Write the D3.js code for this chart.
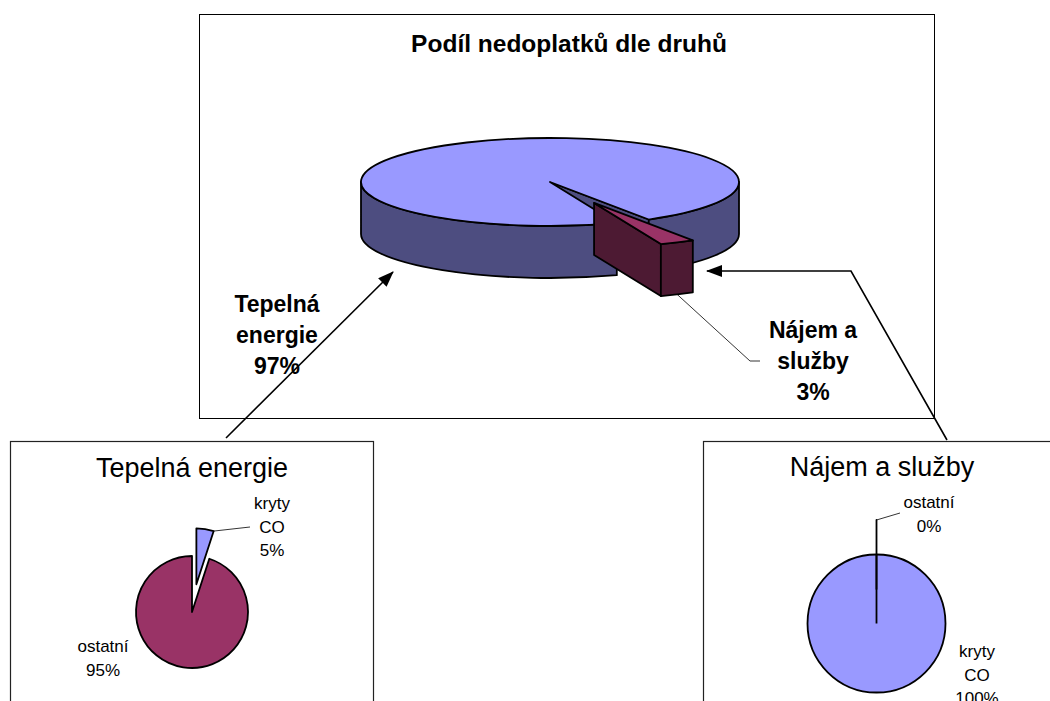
<!DOCTYPE html>
<html>
<head>
<meta charset="utf-8">
<script src="https://cdn.jsdelivr.net/npm/d3@7"></script>
<style>
  body { margin: 0; background: #fff; }
  text { font-family: "Liberation Sans", Arial, Helvetica, sans-serif; fill: #000; }
</style>
</head>
<body>
<script>
// data
var mainCategories = ["Tepelná energie", "Nájem a služby"];
var mainValues = [97, 3];
var mainLabelLines = [["Tepelná", "energie"], ["Nájem a", "služby"]];

var heatCategories = ["kryty CO", "ostatní"];
var heatValues = [5, 95];
var heatLabelLines = [["kryty", "CO"], ["ostatní"]];

var rentCategories = ["kryty CO", "ostatní"];
var rentValues = [100, 0];
var rentLabelLines = [["kryty", "CO"], ["ostatní"]];

var w = 1050;
var h = 701;
var svg = d3.select("body").append("svg")
          .attr("width", w)
          .attr("height", h);

var pct = d3.format(".0%");
var blue = "#9999ff", blueSide = "#4d4d80";
var maroon = "#993366", maroonSide = "#4d1a33";

var defs = svg.append("defs");
defs.append("marker")
    .attr("id", "arrow")
    .attr("markerUnits", "userSpaceOnUse")
    .attr("markerWidth", 16)
    .attr("markerHeight", 12)
    .attr("refX", 15)
    .attr("refY", 6)
    .attr("orient", "auto")
  .append("path")
    .attr("d", "M0,0 L16,6 L0,12 Z")
    .attr("fill", "#000");

// frames
svg.append("rect")
   .attr("x", 199.5).attr("y", 14.5)
   .attr("width", 735).attr("height", 404)
   .attr("fill", "white").attr("stroke", "#000").attr("stroke-width", 1);
svg.append("rect")
   .attr("x", 10.5).attr("y", 441.5)
   .attr("width", 363).attr("height", 280)
   .attr("fill", "white").attr("stroke", "#222").attr("stroke-width", 1.2);
svg.append("rect")
   .attr("x", 703.5).attr("y", 441.5)
   .attr("width", 380).attr("height", 280)
   .attr("fill", "white").attr("stroke", "#222").attr("stroke-width", 1.2);

// main title
svg.append("text")
   .attr("x", 569).attr("y", 52)
   .attr("text-anchor", "middle")
   .style("font-size", "24.5px").style("font-weight", "bold")
   .text("Podíl nedoplatků dle druhů");

// ---- main 3D pie ----
var cx = 550, cy = 182, rx = 189, ry = 44, depth = 52, explode = 0.53;
var mainPie = d3.pie().sort(null)
    .startAngle(159.3 * Math.PI / 180)
    .endAngle(159.3 * Math.PI / 180 + 2 * Math.PI);
var mainArcs = mainPie(mainValues);
var mainColors = [[blue, blueSide], [maroon, maroonSide]];
var smallest = d3.min(mainValues);

function pt(t, z, o) {
  return [cx + o[0] + rx * Math.cos(t), cy + o[1] + ry * Math.sin(t) + z];
}
function arcTo(p, large, sweep) {
  return "A" + rx + "," + ry + " 0 " + large + "," + sweep + " " + p[0] + "," + p[1];
}

var pie3d = svg.append("g");
mainArcs.forEach(function(d, i) {
  // screen angle: 0 = right, clockwise
  var t0 = d.startAngle - Math.PI / 2;
  var t1 = d.endAngle - Math.PI / 2;
  var tm = (t0 + t1) / 2;
  var o = d.value === smallest ? [explode * rx * Math.cos(tm), explode * ry * Math.sin(tm)] : [0, 0];
  d.t0 = t0; d.t1 = t1; d.tm = tm; d.o = o;
  var g = pie3d.append("g");
  var style = function(sel, fill) {
    sel.attr("fill", fill).attr("stroke", "#000")
       .attr("stroke-width", 1.8).attr("stroke-linejoin", "round");
  };
  var c0 = [cx + o[0], cy + o[1]];
  // radial faces
  [[t0, -Math.cos(t0) > 0], [t1, Math.cos(t1) > 0]].forEach(function(f) {
    if (!f[1]) return;
    var a = pt(f[0], 0, o), b = pt(f[0], depth, o);
    g.append("path")
     .attr("d", "M" + c0 + "L" + a + "L" + b + "L" + [c0[0], c0[1] + depth] + "Z")
     .call(style, mainColors[i][1]);
  });
  // outer walls (front half only)
  for (var k = -1; k <= 2; k++) {
    var a = Math.max(t0, 2 * Math.PI * k), b = Math.min(t1, 2 * Math.PI * k + Math.PI);
    if (b - a <= 0) continue;
    var p0 = pt(a, 0, o), p1 = pt(b, 0, o), p2 = pt(b, depth, o), p3 = pt(a, depth, o);
    g.append("path")
     .attr("d", "M" + p0 + arcTo(p1, 0, 1) + "L" + p2 + arcTo(p3, 0, 0) + "Z")
     .call(style, mainColors[i][1]);
  }
  // top face
  var s = pt(t0, 0, o), e = pt(t1, 0, o);
  g.append("path")
   .attr("d", "M" + c0 + "L" + s + arcTo(e, (t1 - t0) > Math.PI ? 1 : 0, 1) + "Z")
   .call(style, mainColors[i][0]);
});

// main labels
var mainLabelPos = [[277, 312], [813, 338]];
mainArcs.forEach(function(d, i) {
  var lines = mainLabelLines[i].concat([pct(d.value / d3.sum(mainValues))]);
  var t = svg.append("text")
     .attr("text-anchor", "middle")
     .style("font-size", "23px").style("font-weight", "bold");
  lines.forEach(function(l, j) {
    t.append("tspan").attr("x", mainLabelPos[i][0])
     .attr("y", mainLabelPos[i][1] + j * 31).text(l);
  });
});
// leader for small slice
var small = mainArcs[1];
var lp = pt(small.tm, depth, small.o);
svg.append("polyline")
   .attr("points", [lp, [750, 361], [760, 361]].join(" "))
   .attr("fill", "none").attr("stroke", "#000").attr("stroke-width", 0.8);

// ---- small 2D pies ----
function smallPie(opts) {
  var pie = d3.pie().sort(null);
  var arcs = pie(opts.values);
  var arc = d3.arc().innerRadius(0).outerRadius(opts.r);
  var mn = d3.min(opts.values);
  var g = svg.append("g").attr("transform", "translate(" + opts.cx + "," + opts.cy + ")");
  svg.append("text")
     .attr("x", opts.titleX).attr("y", opts.titleY)
     .attr("text-anchor", "middle")
     .style("font-size", "27px")
     .text(opts.title);
  arcs.forEach(function(d, i) {
    var m = (d.startAngle + d.endAngle) / 2;
    var off = d.value === mn ? opts.r * 0.5 : 0;
    d.ox = off * Math.sin(m); d.oy = -off * Math.cos(m);
    var sg = g.append("g").attr("transform", "translate(" + d.ox + "," + d.oy + ")");
    sg.append("path")
     .attr("d", arc(d))
     .attr("fill", opts.colors[i])
     .attr("stroke", "#000").attr("stroke-width", 1.8)
     .attr("stroke-linejoin", "round");
    if (d.endAngle - d.startAngle >= 2 * Math.PI - 1e-9) {
      // full slice still shows its seam
      sg.append("line")
        .attr("x1", 0).attr("y1", 0)
        .attr("x2", opts.r * Math.sin(d.startAngle)).attr("y2", -opts.r * Math.cos(d.startAngle))
        .attr("stroke", "#000").attr("stroke-width", 1.8);
    }
    var lines = opts.labelLines[i].concat([pct(d.value / d3.sum(opts.values))]);
    var t = svg.append("text").attr("text-anchor", "middle").style("font-size", "17px");
    lines.forEach(function(l, j) {
      t.append("tspan").attr("x", opts.labelPos[i][0])
       .attr("y", opts.labelPos[i][1] + j * 23.5).text(l);
    });
    if (opts.leader[i]) {
      var a = d.value === 0 ? d.startAngle : d.endAngle;
      var sx = opts.cx + d.ox + opts.r * Math.sin(a), sy = opts.cy + d.oy - opts.r * Math.cos(a);
      svg.append("line")
         .attr("x1", sx).attr("y1", sy)
         .attr("x2", opts.leader[i][0]).attr("y2", opts.leader[i][1])
         .attr("stroke", "#000").attr("stroke-width", 0.8);
    }
  });
}

smallPie({
  values: heatValues, labelLines: heatLabelLines, title: mainCategories[0],
  cx: 192, cy: 612, r: 56, titleX: 192, titleY: 477,
  colors: [blue, maroon],
  labelPos: [[272, 509], [103, 652]],
  leader: [[250, 527], null]
});
smallPie({
  values: rentValues, labelLines: rentLabelLines, title: mainCategories[1],
  cx: 876.5, cy: 623.5, r: 69, titleX: 882, titleY: 476,
  colors: [blue, maroon],
  labelPos: [[977, 657], [929, 508]],
  leader: [null, [900, 513]]
});

// connector arrows
svg.append("line")
   .attr("x1", 226).attr("y1", 438).attr("x2", 393).attr("y2", 272)
   .attr("stroke", "#000").attr("stroke-width", 1.6)
   .attr("marker-end", "url(#arrow)");
svg.append("polyline")
   .attr("points", "947,440 851,271 707,271")
   .attr("fill", "none")
   .attr("stroke", "#000").attr("stroke-width", 1.6)
   .attr("marker-end", "url(#arrow)");
</script>
</body>
</html>
